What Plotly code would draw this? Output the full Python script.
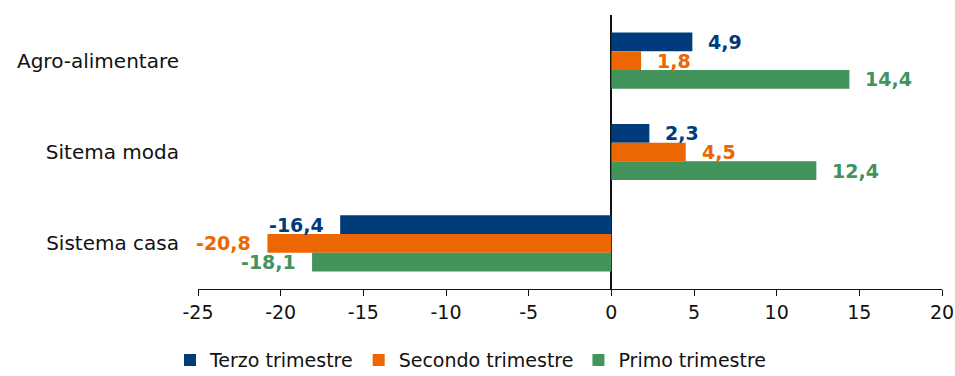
import plotly.graph_objects as go

categories = ["Agro-alimentare", "Sitema moda", "Sistema casa"]
series_names = ["Terzo trimestre", "Secondo trimestre", "Primo trimestre"]
terzo = [4.9, 2.3, -16.4]
secondo = [1.8, 4.5, -20.8]
primo = [14.4, 12.4, -18.1]
tick_vals = [-25, -20, -15, -10, -5, 0, 5, 10, 15, 20]
tick_labels = ["-25", "-20", "-15", "-10", "-5", "0", "5", "10", "15", "20"]

colors = ["#003B7C", "#EC6602", "#42935C"]
values = [terzo, secondo, primo]
FONT = "DejaVu Sans"

fig = go.Figure()
for name, vals, col in zip(series_names, values, colors):
    fig.add_trace(go.Bar(
        y=categories, x=vals, name=name, orientation="h",
        marker=dict(color=col, line=dict(width=0)),
        hoverinfo="skip",
    ))

annotations = []
bar_px = 18.7
for i, (vals, col) in enumerate(zip(values, colors)):
    yshift = (1 - i) * bar_px
    for cat, v in zip(categories, vals):
        txt = f"{v:.1f}".replace(".", ",")
        annotations.append(dict(
            x=v, y=cat, xref="x", yref="y", text=f"<b>{txt}</b>",
            showarrow=False, xanchor="left" if v >= 0 else "right",
            xshift=14 if v >= 0 else -14, yshift=yshift,
            font=dict(family=FONT, size=19, color=col),
        ))

fig.update_layout(
    width=955, height=376,
    margin=dict(l=198, r=13, t=15, b=87, autoexpand=False),
    paper_bgcolor="white", plot_bgcolor="white",
    barmode="group", bargap=0.385, bargroupgap=0,
    font=dict(family=FONT, size=19, color="#111111"),
    annotations=annotations,
    showlegend=True,
    legend=dict(
        orientation="h", xref="container", yref="container",
        x=0.178, xanchor="left", y=0.042, yanchor="middle",
        font=dict(family=FONT, size=19, color="#111111"),
        itemwidth=30, traceorder="normal",
    ),
    xaxis=dict(
        range=[-25, 20], tickvals=tick_vals, ticktext=tick_labels,
        showline=True, linecolor="#111111", linewidth=1,
        ticks="outside", ticklen=6, tickcolor="#111111",
        showgrid=False, zeroline=True, zerolinecolor="#111111", zerolinewidth=1.5,
        tickfont=dict(family=FONT, size=19, color="#111111"),
        automargin=False,
    ),
    yaxis=dict(
        autorange="reversed", categoryorder="array", categoryarray=categories,
        showline=False, showgrid=False, zeroline=False,
        ticks="", ticklabelstandoff=18, automargin=False,
        tickfont=dict(family=FONT, size=20, color="#111111"),
    ),
)

fig.write_html("out.html")
